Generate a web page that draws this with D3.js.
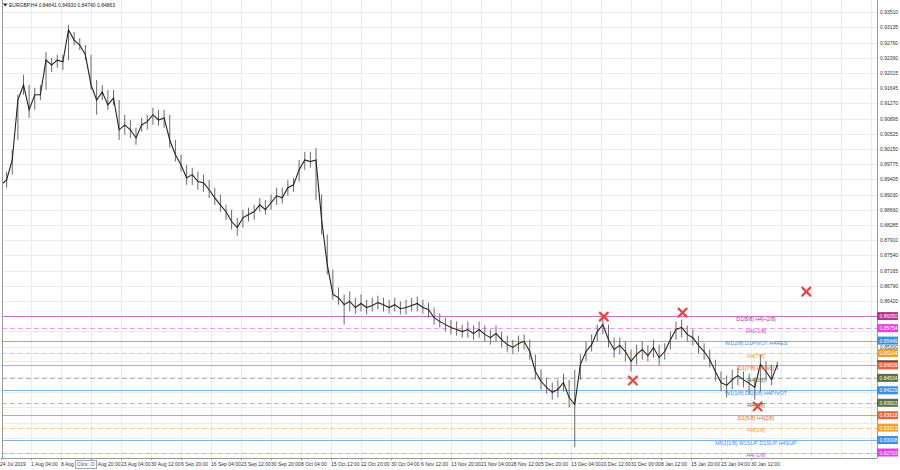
<!DOCTYPE html>
<html><head><meta charset="utf-8">
<script src="https://cdn.jsdelivr.net/npm/d3@7"></script>
<style>
body{margin:0;background:#fff}
svg{display:block}
text{font-family:"Liberation Sans",Arial,sans-serif}
</style>
</head><body>
<svg id="c" width="900" height="470"></svg>
<script>
// ---------- DATA ----------
const symbol = "EURGBP,H4";
const lastBar = [0.84841, 0.84930, 0.84740, 0.84863]; // O H L C
const barsPerSample = 6; // one sample per trading day of H4 bars
const closes = [0.8927,0.8939,0.8988,0.9135,0.9172,0.9111,0.9148,0.9148,0.9233,0.9221,
0.9233,0.9229,0.9307,0.9282,0.9270,0.9246,0.9172,0.9135,0.9155,0.9123,
0.9140,0.9062,0.9074,0.9062,0.9042,0.9074,0.9082,0.9099,0.9086,0.9091,
0.9037,0.9001,0.8976,0.8944,0.8952,0.8935,0.8932,0.8915,0.8895,0.8878,
0.8861,0.8837,0.8822,0.8846,0.8854,0.8861,0.8878,0.8866,0.8883,0.8900,
0.8895,0.8920,0.8927,0.8964,0.8988,0.8984,0.8988,0.8841,0.8731,0.8658,
0.8650,0.8633,0.8641,0.8626,0.8636,0.8626,0.8631,0.8638,0.8633,0.8626,
0.8633,0.8623,0.8626,0.8631,0.8636,0.8626,0.8621,0.8601,0.8592,0.8584,
0.8577,0.8572,0.8567,0.8572,0.8562,0.8572,0.8560,0.8552,0.8562,0.8547,
0.8535,0.8528,0.8538,0.8543,0.8518,0.8469,0.8445,0.8430,0.8418,0.8425,
0.8442,0.8405,0.8388,0.8486,0.8518,0.8535,0.8567,0.8584,0.8547,0.8523,
0.8533,0.8518,0.8494,0.8511,0.8523,0.8508,0.8528,0.8503,0.8518,0.8547,
0.8572,0.8577,0.8560,0.8552,0.8533,0.8518,0.8498,0.8469,0.8442,0.8435,
0.8449,0.8459,0.8449,0.8440,0.8430,0.8486,0.8469,0.8449,0.8486];
const highs = [0.8952,0.8959,0.9013,0.9148,0.9197,0.9172,0.9165,0.9172,0.9253,0.9238,
0.9246,0.9246,0.9319,0.9302,0.9287,0.9270,0.9246,0.9184,0.9172,0.9160,
0.9160,0.9135,0.9099,0.9086,0.9067,0.9091,0.9099,0.9116,0.9111,0.9111,
0.9099,0.9037,0.9001,0.8976,0.8969,0.8959,0.8952,0.8939,0.8920,0.8903,
0.8878,0.8866,0.8846,0.8866,0.8871,0.8878,0.8895,0.8890,0.8903,0.8920,
0.8920,0.8939,0.8944,0.8988,0.9008,0.9008,0.9018,0.8903,0.8805,0.8719,
0.8675,0.8658,0.8665,0.8650,0.8658,0.8645,0.8650,0.8655,0.8650,0.8645,
0.8650,0.8641,0.8645,0.8650,0.8653,0.8645,0.8638,0.8626,0.8611,0.8601,
0.8596,0.8592,0.8584,0.8592,0.8582,0.8592,0.8582,0.8572,0.8582,0.8567,
0.8557,0.8547,0.8557,0.8560,0.8547,0.8511,0.8474,0.8454,0.8442,0.8449,
0.8464,0.8449,0.8474,0.8511,0.8543,0.8560,0.8584,0.8601,0.8584,0.8552,
0.8552,0.8543,0.8523,0.8535,0.8543,0.8533,0.8547,0.8535,0.8538,0.8567,
0.8592,0.8596,0.8582,0.8572,0.8557,0.8538,0.8523,0.8498,0.8469,0.8459,
0.8474,0.8479,0.8469,0.8464,0.8454,0.8511,0.8494,0.8486,0.8493];
const lows = [0.8910,0.8920,0.8952,0.9037,0.9148,0.9091,0.9111,0.9135,0.9160,0.9204,
0.9214,0.9209,0.9233,0.9270,0.9258,0.9233,0.9160,0.9099,0.9135,0.9111,
0.9123,0.9037,0.9050,0.9042,0.9025,0.9057,0.9062,0.9074,0.9072,0.9067,
0.9018,0.8984,0.8959,0.8927,0.8927,0.8915,0.8910,0.8895,0.8878,0.8861,
0.8841,0.8817,0.8802,0.8822,0.8837,0.8841,0.8861,0.8854,0.8866,0.8878,
0.8881,0.8900,0.8910,0.8935,0.8964,0.8969,0.8890,0.8805,0.8707,0.8645,
0.8633,0.8584,0.8616,0.8611,0.8616,0.8609,0.8616,0.8621,0.8616,0.8611,
0.8616,0.8609,0.8609,0.8616,0.8616,0.8611,0.8601,0.8584,0.8577,0.8567,
0.8560,0.8557,0.8552,0.8552,0.8547,0.8552,0.8543,0.8535,0.8543,0.8528,
0.8518,0.8511,0.8518,0.8523,0.8498,0.8449,0.8425,0.8415,0.8400,0.8405,
0.8420,0.8381,0.8283,0.8449,0.8494,0.8518,0.8543,0.8560,0.8528,0.8503,
0.8511,0.8494,0.8469,0.8486,0.8498,0.8494,0.8503,0.8484,0.8498,0.8523,
0.8547,0.8552,0.8543,0.8533,0.8513,0.8498,0.8479,0.8445,0.8420,0.8405,
0.8425,0.8435,0.8430,0.8413,0.8400,0.8420,0.8445,0.8435,0.8474];

const timeLabels = ["24 Jul 2019","1 Aug 04:00","8 Aug 12:00","15 Aug 20:00","23 Aug 04:00","30 Aug 12:00",
"6 Sep 20:00","16 Sep 04:00","23 Sep 12:00","30 Sep 20:00","8 Oct 04:00","15 Oct 12:00","22 Oct 20:00",
"30 Oct 04:00","6 Nov 12:00","13 Nov 20:00","21 Nov 04:00","28 Nov 12:00","5 Dec 20:00","13 Dec 04:00",
"20 Dec 12:00","31 Dec 00:00","8 Jan 12:00","15 Jan 20:00","23 Jan 04:00","30 Jan 12:00"];
const barsPerLabel = 32;

const priceTicks = [0.93510,0.93135,0.92760,0.92390,0.92015,0.91645,0.91270,0.90895,0.90525,0.90150,
0.89775,0.89405,0.89030,0.88660,0.88285,0.87910,0.87540,0.87165,0.86790,0.86420,0.86045,0.85675,
0.85300,0.84950,0.84555,0.84180,0.83810,0.83435,0.83060,0.82690];

const levelPrices = [0.86050,0.85754,0.85449,0.85144,0.84839,0.84534,0.84229,0.83923,0.83618,0.83313,0.83008,0.82703];
const levelNames = ["D1[8/8] H4[+2/8]","H4[+1/8]","W1[2/8] D1PIVOT H4RES","H4[7/8]","D1[7/8] H4[6/8]","H4[5/8]",
"W1[1/8] D1[6/8] H4PIVOT","H4[3/8]","D1[5/8] H4[2/8]","H4[1/8]","MN1[1/8] W1SUP D1SUP H4SUP","H4[-1/8]"];
const levelKinds = ["top","ext","blue","orange","red","olive","blue","olive","red","orange","blue","ext"];

const markerBars = [643, 727, 674, 859, 807];
const markerPrices = [0.86037, 0.86135, 0.84470, 0.86650, 0.83833];

// ---------- STYLE ----------
const kindStyle = {
  top:   {line:"#cc6cbd", box:"#b2348e", text:"#b2348e", dash:null},
  ext:   {line:"#ee9cee", box:"#e83ee8", text:"#d040d0", dash:"5,3"},
  blue:  {line:"#7ab4ea", box:"#3b8ee0", text:"#3b8ee0", dash:null},
  orange:{line:"#f7c98e", box:"#f0a030", text:"#e89a30", dash:"5,3"},
  red:   {line:"#f29a78", box:"#e8643c", text:"#e06a40", dash:null},
  olive: {line:"#b3bd9c", box:"#5c6f3e", text:"#5c6f3e", dash:"5,3"}
};
const FS = 5;

const svg = d3.select("#c");
const plotL = 2, plotR = 877, plotT = 0, plotB = 458;

const x = d3.scaleLinear().domain([0, barsPerLabel*25]).range([1, 751]);
const y = d3.scaleLinear().domain([0.82703, 0.93510]).range([452.5, 12]);

svg.append("defs").append("clipPath").attr("id","pc")
  .append("rect").attr("x",plotL).attr("y",plotT).attr("width",plotR-plotL).attr("height",plotB-plotT);

const g = svg.append("g").attr("clip-path","url(#pc)");

// grid
g.selectAll(".hg").data(priceTicks).join("line")
  .attr("x1",plotL).attr("x2",plotR)
  .attr("y1",d=>Math.round(y(d))+0.5).attr("y2",d=>Math.round(y(d))+0.5)
  .attr("stroke","#ebebeb").attr("stroke-width",1);
g.selectAll(".vg").data(d3.range(timeLabels.length+4)).join("line")
  .attr("x1",d=>Math.round(x(d*barsPerLabel))+0.5).attr("x2",d=>Math.round(x(d*barsPerLabel))+0.5)
  .attr("y1",plotT).attr("y2",plotB)
  .attr("stroke","#ebebeb").attr("stroke-width",1);

// level lines
g.selectAll(".lv").data(levelPrices).join("line")
  .attr("x1",plotL).attr("x2",plotR)
  .attr("y1",d=>Math.round(y(d))+0.5).attr("y2",d=>Math.round(y(d))+0.5)
  .attr("stroke",(d,i)=>kindStyle[levelKinds[i]].line)
  .attr("stroke-dasharray",(d,i)=>kindStyle[levelKinds[i]].dash)
  .attr("stroke-width",1);

// price series
const idx = closes.map((c,i)=>i*barsPerSample);
g.selectAll(".wk").data(closes).join("line")
  .attr("x1",(d,i)=>x(idx[i])).attr("x2",(d,i)=>x(idx[i]))
  .attr("y1",(d,i)=>y(highs[i])).attr("y2",(d,i)=>y(lows[i]))
  .attr("stroke","#6a6a6a").attr("stroke-width",1);
const line = d3.line().x((d,i)=>x(idx[i])).y(d=>y(d));
g.append("path").datum(closes).attr("d",line)
  .attr("fill","none").attr("stroke","#222").attr("stroke-width",1.1);

// level labels
g.selectAll(".ll").data(levelPrices).join("text")
  .attr("x",756).attr("y",d=>y(d)+4.5)
  .attr("text-anchor","middle").attr("font-size",5.4)
  .attr("fill",(d,i)=>kindStyle[levelKinds[i]].text)
  .text((d,i)=>levelNames[i]);

// markers
const mk = g.selectAll(".mk").data(markerPrices).join("g")
  .attr("transform",(d,i)=>`translate(${x(markerBars[i])},${y(d)})`);
mk.append("path").attr("d","M-4,-4L4,4M4,-4L-4,4")
  .attr("stroke","#e04848").attr("stroke-width",2.2).attr("stroke-linecap","round");

// frame
svg.append("line").attr("x1",plotL+0.5).attr("x2",plotL+0.5).attr("y1",0).attr("y2",plotB).attr("stroke","#999");
svg.append("line").attr("x1",plotR+0.5).attr("x2",plotR+0.5).attr("y1",0).attr("y2",plotB).attr("stroke","#999");
svg.append("line").attr("x1",plotL).attr("x2",plotR).attr("y1",plotB+0.5).attr("y2",plotB+0.5).attr("stroke","#999");

// price axis: plain ticks, skipping ones hidden behind a level box
const boxPrices = levelPrices.concat([lastBar[3]]);
const visibleTicks = priceTicks.filter(t => boxPrices.every(b => Math.abs(y(t)-y(b)) > 5.5));
svg.selectAll(".pt").data(visibleTicks).join("text")
  .attr("x",880).attr("y",d=>y(d)+2)
  .attr("font-size",FS).attr("fill","#333")
  .text(d=>d.toFixed(5));
// current price box (black)
svg.append("rect").attr("x",877).attr("y",y(lastBar[3])-4).attr("width",21).attr("height",8).attr("fill","#111");
svg.append("text").attr("x",879.5).attr("y",y(lastBar[3])+2).attr("font-size",FS).attr("fill","#fff").text(lastBar[3].toFixed(5));
// level boxes
const lb = svg.selectAll(".lb").data(levelPrices).join("g");
lb.append("rect").attr("x",877).attr("y",d=>y(d)-4).attr("width",21).attr("height",8)
  .attr("fill",(d,i)=>kindStyle[levelKinds[i]].box);
lb.append("text").attr("x",879.5).attr("y",d=>y(d)+2).attr("font-size",FS).attr("fill","#fff")
  .text(d=>d.toFixed(5));

// time axis
svg.selectAll(".tl").data(timeLabels).join("text")
  .attr("x",(d,i)=>x(i*barsPerLabel)+(i===0?-1:0)).attr("y",466)
  .attr("font-size",FS).attr("fill","#333").text(d=>d);
svg.selectAll(".tt").data(timeLabels).join("line")
  .attr("x1",(d,i)=>Math.round(x(i*barsPerLabel))+0.5).attr("x2",(d,i)=>Math.round(x(i*barsPerLabel))+0.5)
  .attr("y1",plotB).attr("y2",plotB+2).attr("stroke","#999");

// click tooltip
svg.append("rect").attr("x",75.5).attr("y",460.5).attr("width",21).attr("height",8)
  .attr("fill","#fff").attr("stroke","#9ab");
svg.append("text").attr("x",77).attr("y",466.3).attr("font-size",FS).attr("fill","#457").text("Click: O");

// header
svg.append("path").attr("d","M3,3.5L7.5,3.5L5.25,6.5Z").attr("fill","#222");
svg.append("text").attr("x",9).attr("y",7).attr("font-size",FS).attr("fill","#222")
  .text(`${symbol}  ${lastBar.map(v=>v.toFixed(5)).join(" ")}`);
</script>
</body></html>
